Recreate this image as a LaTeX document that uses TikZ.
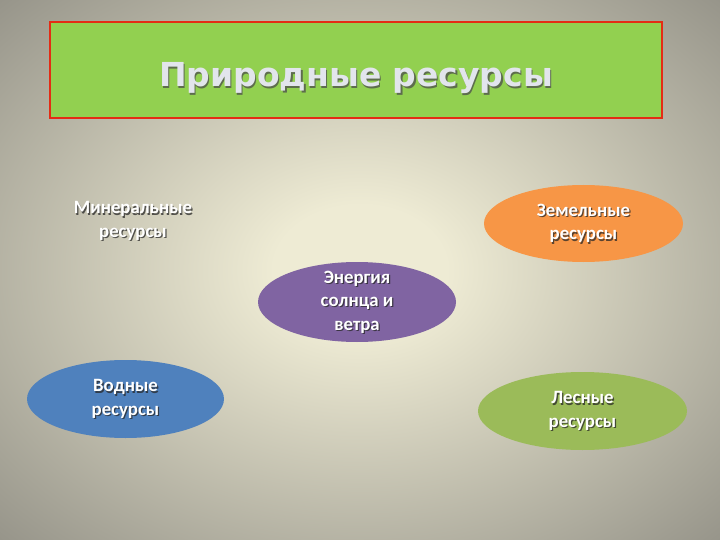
\documentclass[tikz,border=0pt]{standalone}
\usepackage{fontspec}
\setmainfont{Carlito}
\newfontfamily\titlefont{DejaVu Sans}
\usetikzlibrary{shapes.geometric}

\definecolor{bgin}{RGB}{238,235,212}
\definecolor{bgout}{RGB}{146,144,134}
\definecolor{bgcorner}{RGB}{105,103,97}
\definecolor{headgreen}{RGB}{146,208,80}
\definecolor{headred}{RGB}{228,44,20}
\definecolor{zemorange}{RGB}{247,150,70}
\definecolor{enpurple}{RGB}{128,100,162}
\definecolor{vodblue}{RGB}{79,129,189}
\definecolor{lesgreen}{RGB}{155,187,89}
\definecolor{titlesilver}{RGB}{226,229,236}

\pgfdeclareradialshading{slidebg}{\pgfpoint{0bp}{0bp}}{color(0bp)=(bgin); color(6bp)=(bgin); color(37bp)=(bgout); color(64bp)=(bgcorner)}

\tikzset{
  oval/.style={ellipse, draw=none, inner sep=0pt},
  lbl/.style={text=white, align=center, inner sep=0pt, font=\bfseries\fontsize{18.8}{23.5}\selectfont},
  shad/.style={lbl, text=black!85, opacity=0.75},
}

\begin{document}
\begin{tikzpicture}[x=1pt,y=1pt,yscale=-1,xscale=1]
\useasboundingbox (0,0) rectangle (720,540);
%Background
\shade[shading=slidebg] (0,0) rectangle (720,540);

%Shape: Rectangle
\node[draw=headred, line width=1.2, fill=headgreen, minimum width=612, minimum height=96, inner sep=0pt] (head) at (356,70) {};
% Title Node
\node[anchor=base, inner sep=0pt, text=black!70, opacity=0.75, font=\titlefont\bfseries\fontsize{33}{36}\selectfont] at (357.3,88.3) {Природные ресурсы};
\node[anchor=base, inner sep=0pt, text=titlesilver, font=\titlefont\bfseries\fontsize{33}{36}\selectfont] (title) at (356,87) {Природные ресурсы};

%Shape: Ellipse
\node[oval, fill=zemorange, minimum width=199, minimum height=77] (zem) at (583.5,223.5) {};
%Shape: Ellipse
\node[oval, fill=enpurple, minimum width=198, minimum height=80] (en) at (357,302) {};
%Shape: Ellipse
\node[oval, fill=vodblue, minimum width=197, minimum height=78] (vod) at (125.5,399) {};
%Shape: Ellipse
\node[oval, fill=lesgreen, minimum width=209, minimum height=78] (les) at (582.5,411) {};

% Text Node
\node[shad] at (134.2,222.2) {Минеральные\\ресурсы};
\node[lbl] (min) at (133,221) {Минеральные\\ресурсы};
% Text Node
\node[shad] at ([shift={(1.2,1.2)}]zem.center) {Земельные\\ресурсы};
\node[lbl] (zemtxt) at (zem.center) {Земельные\\ресурсы};
% Text Node
\node[shad] at ([shift={(1.2,1.2)}]en.center) {Энергия\\солнца и\\ветра};
\node[lbl] (entxt) at (en.center) {Энергия\\солнца и\\ветра};
% Text Node
\node[shad] at ([shift={(1.2,1.2)}]vod.center) {Водные\\ресурсы};
\node[lbl] (vodtxt) at (vod.center) {Водные\\ресурсы};
% Text Node
\node[shad] at ([shift={(1.2,1.2)}]les.center) {Лесные\\ресурсы};
\node[lbl] (lestxt) at (les.center) {Лесные\\ресурсы};

\end{tikzpicture}
\end{document}
